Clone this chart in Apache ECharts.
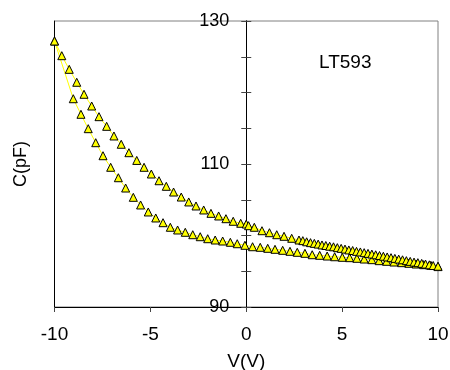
<!DOCTYPE html>
<html>
<head>
<meta charset="utf-8">
<script src="https://cdn.jsdelivr.net/npm/echarts@6/dist/echarts.min.js"></script>
<style>html,body{margin:0;padding:0;background:#fff}#c{width:450px;height:370px}</style>
</head>
<body>
<div id="c"></div>
<script>
var xTicks = [-10, -5, 0, 5, 10];
var yLabels = [90, 110, 130];
var upperV = [-10, -9.62, -9.23, -8.84, -8.46, -8.06, -7.68, -7.28, -6.90, -6.52, -6.12, -5.71, -5.33, -4.95, -4.55, -4.17, -3.79, -3.39, -3.00, -2.62, -2.22, -1.84, -1.44, -1.06, -0.68, -0.29, 0.0, 0.12, 0.42, 0.82, 1.21, 1.59, 1.97, 2.37, 2.75, 2.95, 3.15, 3.35, 3.55, 3.75, 3.95, 4.15, 4.35, 4.55, 4.75, 4.95, 5.15, 5.35, 5.55, 5.75, 5.95, 6.15, 6.35, 6.55, 6.75, 6.95, 7.15, 7.35, 7.55, 7.75, 7.95, 8.15, 8.35, 8.55, 8.75, 8.95, 9.15, 9.35, 9.55, 9.75, 10.0];
var upperC = [127.2, 125.15, 123.24, 121.43, 119.75, 118.11, 116.62, 115.27, 113.92, 112.76, 111.58, 110.50, 109.54, 108.60, 107.66, 106.88, 106.08, 105.38, 104.69, 104.13, 103.57, 103.10, 102.73, 102.35, 101.99, 101.71, 101.6, 101.37, 101.15, 100.67, 100.39, 100.11, 99.89, 99.61, 99.37, 99.28, 99.12, 99.0, 98.9, 98.8, 98.68, 98.6, 98.5, 98.42, 98.3, 98.2, 98.1, 97.98, 97.9, 97.78, 97.7, 97.6, 97.5, 97.4, 97.3, 97.2, 97.1, 97.0, 96.9, 96.8, 96.7, 96.6, 96.48, 96.38, 96.28, 96.2, 96.1, 96.0, 95.9, 95.8, 95.7];
var lowerV = [-10, -9.02, -8.62, -8.24, -7.85, -7.47, -7.07, -6.67, -6.29, -5.89, -5.51, -5.11, -4.72, -4.34, -3.96, -3.58, -3.18, -2.79, -2.40, -2.01, -1.62, -1.23, -0.83, -0.47, -0.07, 0.33, 0.73, 1.12, 1.50, 1.90, 2.28, 2.66, 3.06, 3.44, 3.83, 4.22, 4.61, 5.01, 5.39, 5.77, 6.15, 6.55, 6.93, 7.32, 7.70, 8.10, 8.48, 8.86, 9.25, 9.63, 10.0];
var lowerC = [127.2, 119.13, 116.95, 114.94, 112.98, 111.16, 109.54, 108.08, 106.64, 105.34, 104.27, 103.29, 102.45, 101.79, 101.15, 100.77, 100.45, 100.11, 99.83, 99.55, 99.37, 99.23, 99.05, 98.85, 98.63, 98.43, 98.35, 98.21, 98.07, 97.93, 97.79, 97.65, 97.51, 97.31, 97.23, 97.13, 97.03, 96.95, 96.90, 96.81, 96.71, 96.62, 96.48, 96.39, 96.29, 96.20, 96.11, 96.01, 95.92, 95.83, 95.65];
var sampleName = 'LT593';

function pairs(a, b) { return a.map(function (v, i) { return [v, b[i]]; }); }
var FONT = 'Liberation Sans, Arial, sans-serif';
var W = 450, GL = 54.5, GR = 12;
var xMin = xTicks[0], xMax = xTicks[xTicks.length - 1];
// y axis sits at V = 0: shift it inward from the left grid edge
var zeroOffset = -((W - GL - GR) * (0 - xMin) / (xMax - xMin));
var chart = echarts.init(document.getElementById('c'), null, {renderer: 'canvas'});
var markerSeries = function (data) {
  return {
    type: 'line', data: data, symbol: 'triangle', symbolSize: 8, showSymbol: true,
    lineStyle: {color: '#FFFF00', width: 1},
    itemStyle: {color: '#FFFF00', borderColor: '#000', borderWidth: 1},
    animation: false, xAxisIndex: 0, yAxisIndex: 0
  };
};
chart.setOption({
  animation: false,
  title: {text: sampleName, left: 319, top: 53, padding: 0,
    textStyle: {fontFamily: FONT, fontSize: 19, fontWeight: 'normal', color: '#000'}},
  grid: {left: GL, right: GR, top: 21, bottom: 63, show: true, borderColor: '#808080', borderWidth: 1,
    containLabel: false, outerBoundsMode: 'none'},
  xAxis: [{
    type: 'value', min: xMin, max: xMax, interval: 5,
    name: 'V(V)', nameLocation: 'middle', nameGap: 45,
    nameTextStyle: {fontFamily: FONT, fontSize: 19, color: '#000'},
    axisLine: {onZero: false, lineStyle: {color: '#000', width: 1}},
    axisTick: {show: true, inside: false, length: 5, lineStyle: {color: '#444'}},
    axisLabel: {margin: 18, fontFamily: FONT, fontSize: 19, color: '#000'},
    splitLine: {show: false}
  }],
  yAxis: [{
    type: 'value', min: 90, max: 130, interval: 5, position: 'left', offset: zeroOffset,
    axisLine: {onZero: false, lineStyle: {color: '#000', width: 1}},
    axisTick: {show: true, inside: false, length: 5, lineStyle: {color: '#444'}},
    axisLabel: {margin: 17, fontFamily: FONT, fontSize: 18, color: '#000',
      formatter: function (v) { return yLabels.indexOf(v) >= 0 ? String(v) : ''; }},
    splitLine: {show: false}
  }, {
    type: 'value', min: 90, max: 130, interval: 5, position: 'left', offset: zeroOffset,
    axisLine: {onZero: false, lineStyle: {color: '#000', width: 1}},
    axisTick: {show: true, inside: true, length: 5, lineStyle: {color: '#444'}},
    axisLabel: {show: false}, splitLine: {show: false}
  }, {
    type: 'value', min: 90, max: 130, interval: 5, position: 'left', offset: 0,
    name: 'C(pF)', nameLocation: 'middle', nameGap: 24, nameRotate: 90,
    nameTextStyle: {fontFamily: FONT, fontSize: 18, color: '#000'},
    axisLine: {onZero: false, lineStyle: {color: '#000', width: 1}},
    axisTick: {show: false}, axisLabel: {show: false}, splitLine: {show: false}
  }],
  series: [markerSeries(pairs(lowerV, lowerC)), markerSeries(pairs(upperV, upperC))]
});
</script>
</body>
</html>
